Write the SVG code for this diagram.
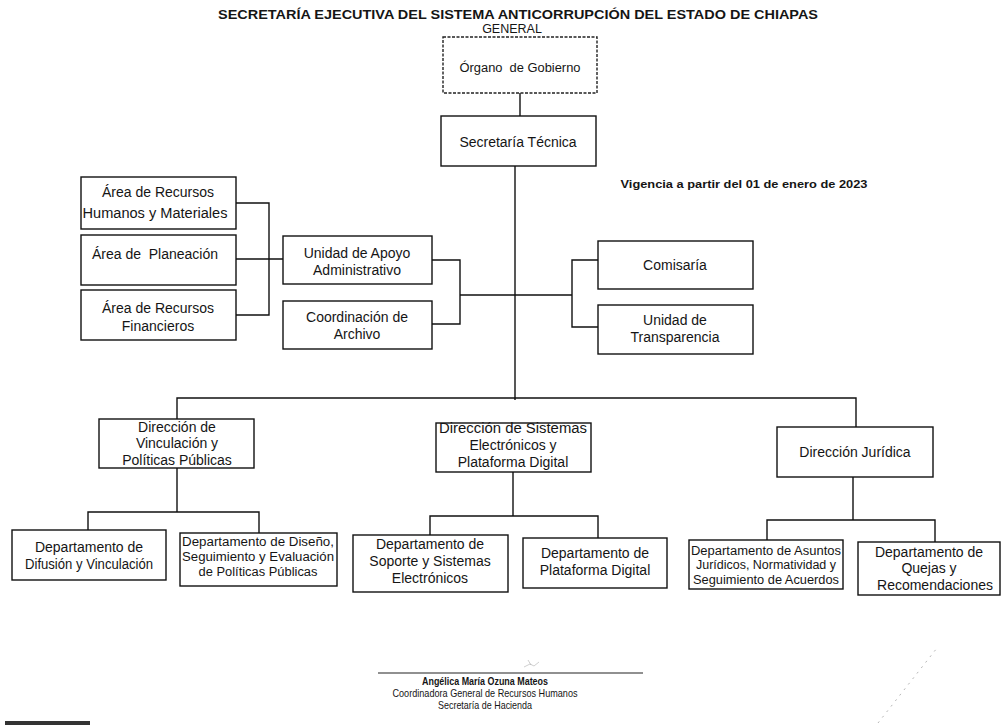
<svg xmlns="http://www.w3.org/2000/svg" width="1007" height="725" viewBox="0 0 1007 725">
<style>
.box{fill:#fff;stroke:#111;stroke-width:1.4}
.dash{fill:#fff;stroke:#222;stroke-width:1.4;stroke-dasharray:3 1.5}
.ln{fill:none;stroke:#111;stroke-width:1.4}
text{font-family:"Liberation Sans",Arial,sans-serif;fill:#151515;text-anchor:middle}
.t{font-size:14px}
.s{font-size:12.5px}
.xs{font-size:12.5px}
.b{font-weight:bold}
</style>
<rect width="1007" height="725" fill="#fff"/>
<g id="title">
<text class="b" x="518" y="19" font-size="12.5" textLength="600" lengthAdjust="spacingAndGlyphs">SECRETARÍA EJECUTIVA DEL SISTEMA ANTICORRUPCIÓN DEL ESTADO DE CHIAPAS</text>
<text x="512" y="33" font-size="12.5">GENERAL</text>
</g>
<g id="vigencia"><text class="b" x="744" y="188" font-size="11" textLength="247" lengthAdjust="spacingAndGlyphs">Vigencia a partir del 01 de enero de 2023</text></g>
<g id="connectors">
<path class="ln" d="M520 93V116"/>
<path class="ln" d="M515 166V400"/>
<path class="ln" d="M236 203H269V315H236M236 259H283"/>
<path class="ln" d="M432 260H460V324H432M460 295H572"/>
<path class="ln" d="M598 260H572V327H598"/>
<path class="ln" d="M177 419V398H856V427"/>
<path class="ln" d="M177 468V512M88 530V512H259V533"/>
<path class="ln" d="M513 472V516M430 535V516H598V538"/>
<path class="ln" d="M853 477V520M767 540V520H935V542"/>
</g>
<g id="organo"><rect class="dash" x="443" y="37" width="154" height="56"/><text class="s" x="520" y="72" textLength="121" lengthAdjust="spacingAndGlyphs" xml:space="preserve">Órgano  de Gobierno</text></g>
<g id="secretaria"><rect class="box" x="441" y="116" width="155" height="50"/><text class="t" x="518" y="147">Secretaría Técnica</text></g>
<g id="rh"><rect class="box" x="81" y="177" width="155" height="52"/><text class="t" x="158" y="197">Área de Recursos</text><text class="t" x="155" y="218" textLength="145" lengthAdjust="spacingAndGlyphs">Humanos y Materiales</text></g>
<g id="planeacion"><rect class="box" x="81" y="235" width="155" height="50"/><text class="t" x="155" y="259" xml:space="preserve">Área de  Planeación</text></g>
<g id="rf"><rect class="box" x="81" y="290" width="155" height="50"/><text class="t" x="158" y="313">Área de Recursos</text><text class="t" x="158" y="331">Financieros</text></g>
<g id="unidad"><rect class="box" x="283" y="236" width="149" height="48"/><text class="t" x="357" y="258">Unidad de Apoyo</text><text class="t" x="357" y="275">Administrativo</text></g>
<g id="archivo"><rect class="box" x="283" y="301" width="149" height="48"/><text class="t" x="357" y="322">Coordinación de</text><text class="t" x="357" y="339">Archivo</text></g>
<g id="comisaria"><rect class="box" x="598" y="241" width="155" height="48"/><text class="t" x="675" y="270">Comisaría</text></g>
<g id="transparencia"><rect class="box" x="598" y="305" width="155" height="49"/><text class="t" x="675" y="325">Unidad de</text><text class="t" x="675" y="342">Transparencia</text></g>
<g id="dvinc"><rect class="box" x="99" y="419" width="155" height="49"/><text class="t" x="177" y="432">Dirección de</text><text class="t" x="177" y="448">Vinculación y</text><text class="t" x="177" y="465">Políticas Públicas</text></g>
<g id="dsis"><rect class="box" x="436" y="423" width="155" height="49"/><text class="t" x="513" y="433" textLength="148" lengthAdjust="spacingAndGlyphs">Dirección de Sistemas</text><text class="t" x="513" y="450">Electrónicos y</text><text class="t" x="513" y="467">Plataforma Digital</text></g>
<g id="djur"><rect class="box" x="777" y="427" width="156" height="50"/><text class="t" x="855" y="457">Dirección Jurídica</text></g>
<g id="difusion"><rect class="box" x="12" y="530" width="154" height="50"/><text class="t" x="89" y="552">Departamento de</text><text class="t" x="89" y="569" textLength="128" lengthAdjust="spacingAndGlyphs">Difusión y Vinculación</text></g>
<g id="diseno"><rect class="box" x="180" y="533" width="157" height="53"/><text class="xs" x="258" y="546" textLength="152" lengthAdjust="spacingAndGlyphs">Departamento de Diseño,</text><text class="xs" x="258" y="561" textLength="152" lengthAdjust="spacingAndGlyphs">Seguimiento y Evaluación</text><text class="xs" x="258" y="576" textLength="119" lengthAdjust="spacingAndGlyphs">de Políticas Públicas</text></g>
<g id="soporte"><rect class="box" x="353" y="535" width="155" height="57"/><text class="t" x="430" y="549">Departamento de</text><text class="t" x="430" y="566">Soporte y Sistemas</text><text class="t" x="430" y="583">Electrónicos</text></g>
<g id="plataforma"><rect class="box" x="523" y="538" width="144" height="50"/><text class="t" x="595" y="558">Departamento de</text><text class="t" x="595" y="575">Plataforma Digital</text></g>
<g id="asuntos"><rect class="box" x="689" y="540" width="154" height="49"/><text class="xs" x="766" y="555" textLength="150" lengthAdjust="spacingAndGlyphs">Departamento de Asuntos</text><text class="xs" x="766" y="569" textLength="140" lengthAdjust="spacingAndGlyphs">Jurídicos, Normatividad y</text><text class="xs" x="766" y="584" textLength="146" lengthAdjust="spacingAndGlyphs">Seguimiento de Acuerdos</text></g>
<g id="quejas"><rect class="box" x="858" y="542" width="142" height="53"/><text class="t" x="929" y="557">Departamento de</text><text class="t" x="929" y="573">Quejas y</text><text class="t" x="935" y="590">Recomendaciones</text></g>
<g id="firma">
<path d="M378 673H643" stroke="#222" stroke-width="1.2"/>
<path d="M524 667l6-3 4 2 5-4M528 660l3 5" fill="none" stroke="#999" stroke-width="0.8" opacity="0.6"/>
<text class="b" x="485" y="685" font-size="11" textLength="126" lengthAdjust="spacingAndGlyphs">Angélica María Ozuna Mateos</text>
<text x="485" y="697" font-size="11" textLength="185" lengthAdjust="spacingAndGlyphs">Coordinadora General de Recursos Humanos</text>
<text x="485" y="709" font-size="11" textLength="94" lengthAdjust="spacingAndGlyphs">Secretaría de Hacienda</text>
</g>
<path d="M878 723L937 648" stroke="#888" stroke-width="1" stroke-dasharray="2 5" opacity="0.6"/>
<rect x="5" y="721" width="85" height="4" fill="#333"/>
</svg>
